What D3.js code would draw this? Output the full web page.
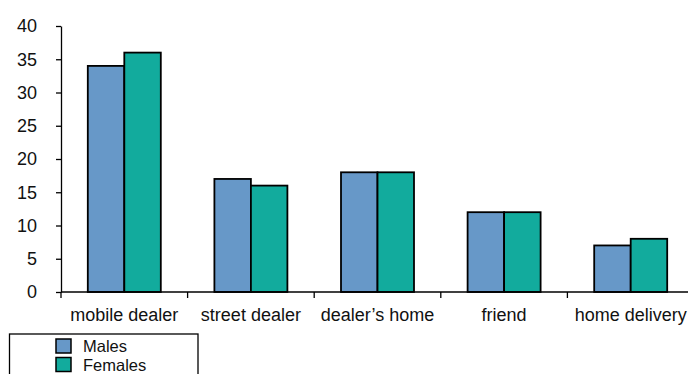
<html>
<head>
<meta charset="utf-8">
<title>dealer bar chart</title>
<style>
    body { margin: 0; background: #fff; }
    text { font-family: "Liberation Sans", Arial, sans-serif; fill: #111; }
    .axis path, .axis line { fill: none; stroke: #000; stroke-width: 1.3px; }
</style>
<script src="https://d3js.org/d3.v7.min.js"></script>
</head>
<body>
<script>
    var categories = ["mobile dealer", "street dealer", "dealer\u2019s home", "friend", "home delivery"];
    var series = ["Males", "Females"];
    var males = [34, 17, 18, 12, 7];
    var females = [36, 16, 18, 12, 8];
    var yTicks = [0, 5, 10, 15, 20, 25, 30, 35, 40];
    var colors = ["#6798c8", "#12ab9d"];

    var width = 688, height = 374;
    var svg = d3.select("body").append("svg")
        .attr("width", width)
        .attr("height", height);

    var x = d3.scaleBand().domain(categories).range([61, 694]);
    var y = d3.scaleLinear().domain([0, 40]).range([292, 26]);

    // bars
    var barW = 36.5;
    var data = categories.map(function(c, i) {
        return { cat: c, vals: [males[i], females[i]] };
    });
    var groups = svg.selectAll(".grp").data(data).enter().append("g")
        .attr("transform", function(d) {
            return "translate(" + (x(d.cat) + x.bandwidth() / 2 - barW) + ",0)";
        });
    groups.selectAll("rect").data(function(d) { return d.vals; }).enter().append("rect")
        .attr("x", function(d, i) { return i * barW; })
        .attr("y", function(d) { return y(d); })
        .attr("width", barW)
        .attr("height", function(d) { return y(0) - y(d); })
        .attr("fill", function(d, i) { return colors[i]; })
        .attr("stroke", "#000")
        .attr("stroke-width", 1.8);

    // y axis
    var yAxis = svg.append("g").attr("class", "axis")
        .attr("transform", "translate(61,0)")
        .call(d3.axisLeft(y).tickValues(yTicks).tickSize(5).tickSizeOuter(0).tickPadding(19));
    yAxis.attr("font-size", null).attr("font-family", null);
    yAxis.selectAll("text").style("font-size", "18px");

    // x axis
    var xAxis = svg.append("g").attr("class", "axis")
        .attr("transform", "translate(0,292)");
    xAxis.append("line").attr("x1", 61).attr("x2", width).attr("y1", 0).attr("y2", 0);
    xAxis.selectAll(".tk").data(categories).enter().append("line")
        .attr("x1", function(d) { return x(d); })
        .attr("x2", function(d) { return x(d); })
        .attr("y1", 0).attr("y2", 6);
    xAxis.selectAll(".lbl").data(categories).enter().append("text")
        .attr("x", function(d) { return x(d) + x.bandwidth() / 2; })
        .attr("y", 29)
        .attr("text-anchor", "middle")
        .style("font-size", "18px")
        .text(function(d) { return d; });

    // legend
    var legend = svg.append("g");
    legend.append("rect")
        .attr("x", 9.5).attr("y", 334).attr("width", 188.5).attr("height", 60)
        .attr("fill", "#fff").attr("stroke", "#000").attr("stroke-width", 1.3);
    var items = legend.selectAll(".it").data(series).enter().append("g")
        .attr("transform", function(d, i) { return "translate(0," + (i * 18.5) + ")"; });
    items.append("rect")
        .attr("x", 56).attr("y", 339).attr("width", 15).attr("height", 14)
        .attr("fill", function(d, i) { return colors[i]; })
        .attr("stroke", "#000").attr("stroke-width", 1.5);
    items.append("text")
        .attr("x", 83).attr("y", 352)
        .style("font-size", "16.5px")
        .text(function(d) { return d; });
</script>
</body>
</html>
